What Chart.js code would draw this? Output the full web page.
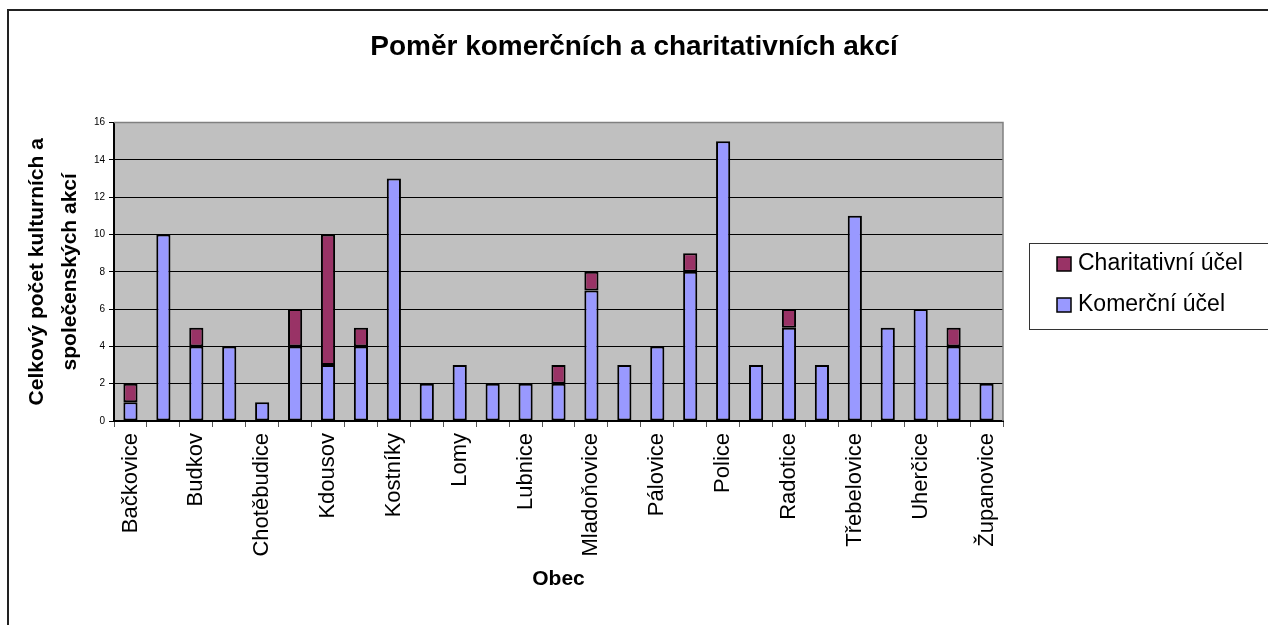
<!DOCTYPE html>
<html>
<head>
<meta charset="utf-8">
<script src="https://cdn.jsdelivr.net/npm/chart.js@4.4.1/dist/chart.umd.min.js"></script>
<style>
body { margin: 0; background: #fff; }
#wrap { width: 1268px; height: 625px; }
</style>
</head>
<body>
<div id="wrap"><canvas id="myChart" width="1268" height="625"></canvas></div>
<script>
// obce (every other label is hidden on the axis, like in the original)
const obce = ['Bačkovice', 'Budeč', 'Budkov', 'Dešov', 'Chotěbudice', 'Jemnice', 'Kdousov', 'Korolupy',
    'Kostníky', 'Lhotice', 'Lomy', 'Lovčovice', 'Lubnice', 'Menhartice', 'Mladoňovice', 'Oponešice',
    'Pálovice', 'Písečné', 'Police', 'Rácovice', 'Radotice', 'Slavíkovice', 'Třebelovice', 'Třebětice',
    'Uherčice', 'Vratěnín', 'Županovice']
const komercni = [1, 10, 4, 4, 1, 4, 3, 4, 13, 2, 3, 2, 2, 2, 7, 3, 4, 8, 15, 3, 5, 3, 11, 5, 6, 4, 2]
const charitativni = [1, 0, 1, 0, 0, 2, 7, 1, 0, 0, 0, 0, 0, 1, 1, 0, 0, 1, 0, 0, 1, 0, 0, 0, 0, 1, 0]
const yMax = 16
const yStep = 2

const font = "'Liberation Sans', Arial, sans-serif"
Chart.defaults.font.family = font
Chart.defaults.color = 'black'

const chartFrame = {
    id: 'chartFrame',
    beforeDraw(chart) {
        const {ctx, chartArea: a} = chart
        ctx.save()
        ctx.fillStyle = '#C0C0C0'
        ctx.fillRect(a.left, a.top, a.right - a.left, a.bottom - a.top)
        ctx.strokeStyle = '#222'
        ctx.lineWidth = 2
        ctx.strokeRect(8, 10, 1400, 800)
        ctx.restore()
    },
    afterDraw(chart) {
        const {ctx, chartArea: a} = chart
        ctx.save()
        // top and right edge of the plot area
        ctx.strokeStyle = '#808080'
        ctx.lineWidth = 1.5
        ctx.beginPath()
        ctx.moveTo(a.left, a.top)
        ctx.lineTo(a.right, a.top)
        ctx.lineTo(a.right, a.bottom)
        ctx.stroke()

        // legend box
        ctx.strokeStyle = '#333'
        ctx.lineWidth = 1
        ctx.strokeRect(1029.5, 243.5, 300, 86)
        const items = [chart.data.datasets[1], chart.data.datasets[0]]
        ctx.font = '23px ' + font
        ctx.textBaseline = 'middle'
        items.forEach((ds, i) => {
            const cy = 264 + i * 41
            ctx.fillStyle = ds.backgroundColor
            ctx.fillRect(1057, cy - 7, 14, 14)
            ctx.strokeStyle = '#000'
            ctx.lineWidth = 1.5
            ctx.strokeRect(1057, cy - 7, 14, 14)
            ctx.fillStyle = '#000'
            ctx.fillText(ds.label, 1078, cy)
        })
        ctx.restore()
    }
}

const myChart = document.getElementById('myChart').getContext('2d')

const akceChart = new Chart(myChart, {
    type: 'bar',
    data: {
        labels: obce,
        datasets: [{
            label: 'Komerční účel',
            data: komercni.map(v => v || null),
            backgroundColor: '#9999FF',
            borderColor: '#000',
            borderWidth: 2,
            borderSkipped: false,
            barPercentage: 0.43,
            categoryPercentage: 1
        }, {
            label: 'Charitativní účel',
            data: charitativni.map(v => v || null),
            backgroundColor: '#993366',
            borderColor: '#000',
            borderWidth: 2,
            borderSkipped: false,
            barPercentage: 0.43,
            categoryPercentage: 1
        }]
    },
    options: {
        responsive: false,
        animation: false,
        layout: { padding: 0 },
        plugins: {
            legend: { display: false },
            tooltip: { enabled: false },
            title: {
                display: true,
                text: 'Poměr komerčních a charitativních akcí',
                font: { size: 28, weight: 'bold' },
                color: '#000',
                padding: { top: 30, bottom: 59 }
            }
        },
        scales: {
            x: {
                stacked: true,
                afterFit: s => { s.height = 204 },
                grid: { display: true, drawOnChartArea: false, offset: true, color: '#555', tickLength: 6 },
                border: { color: '#000', width: 2 },
                ticks: {
                    autoSkip: false,
                    maxRotation: 90,
                    minRotation: 90,
                    padding: 6,
                    font: { size: 22 },
                    callback: (v, i) => i % 2 === 0 ? obce[i] : ''
                },
                title: {
                    display: true,
                    text: 'Obec',
                    font: { size: 21, weight: 'bold' },
                    padding: { top: 0, bottom: 33 }
                }
            },
            y: {
                stacked: true,
                min: 0,
                max: yMax,
                afterFit: s => { s.width = 114 },
                grid: { color: '#000', lineWidth: 1, tickLength: 5 },
                border: { color: '#000', width: 2 },
                ticks: { stepSize: yStep, padding: 4, font: { size: 10 } },
                title: {
                    display: true,
                    text: ['Celkový počet kulturních a', 'společenských akcí'],
                    font: { size: 21, weight: 'bold', lineHeight: 1.6 },
                    padding: { top: 20 }
                }
            },
            spacer: {
                position: 'right',
                afterFit: s => { s.width = 265 },
                grid: { display: false },
                border: { display: false },
                ticks: { display: false }
            }
        }
    },
    plugins: [chartFrame]
})
</script>
</body>
</html>
